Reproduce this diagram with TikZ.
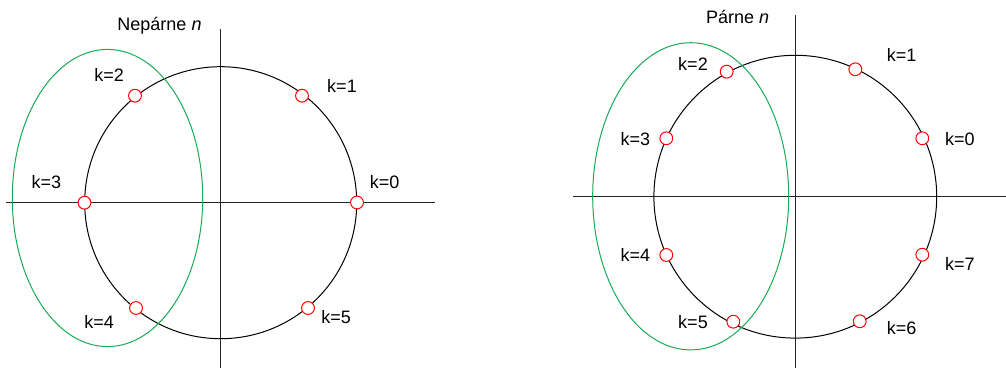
\documentclass[tikz,border=0pt]{standalone}
\usepackage{fontspec}
\setmainfont{Liberation Sans}
\usetikzlibrary{positioning}

\definecolor{regiongreen}{RGB}{25,170,85}

\tikzset{
	axis/.style={line width=0.5pt, draw=black!85},
	unitcircle/.style={line width=0.5pt, draw=black},
	region/.style={line width=0.5pt, draw=regiongreen},
	pole/.style={circle, draw=red, fill=white, line width=0.5pt, minimum size=6.4pt, inner sep=0pt},
	klabel/.style={anchor=base, inner sep=0pt, font=\fontsize{9}{11}\selectfont},
}

\begin{document}
\begin{tikzpicture}[x=0.5pt, y=-0.5pt]

	\useasboundingbox (0,0) rectangle (1006,368);

	% odd n
	\coordinate (A0) at (220.7,202.7);
	\coordinate (AW) at (6,202.7);
	\coordinate (AE) at (435,202.7);
	\coordinate (AN) at (220.7,29);
	\coordinate (AS) at (220.7,368);

	\draw[axis] (AW) -- (AE);
	\draw[axis] (AN) -- (AS);
	\draw[unitcircle] (A0) circle [radius=68pt];
	\draw[region] (107.5,198) ellipse [x radius=47.6pt, y radius=74.3pt];

	\node[pole] (a0) at (357,202.5) {};
	\node[pole] (a1) at (302,95.7) {};
	\node[pole] (a2) at (135,95.7) {};
	\node[pole] (a3) at (84.5,202.7) {};
	\node[pole] (a4) at (136,308) {};
	\node[pole] (a5) at (308,308) {};

	\node[klabel] (ta) at (159.5,30.7) {Nepárne \textit{n}};
	\node[klabel] (la0) at (384.7,188.7) {k=0};
	\node[klabel] (la1) at (342,92.3) {k=1};
	\node[klabel] (la2) at (109.2,81.7) {k=2};
	\node[klabel] (la3) at (46.3,189) {k=3};
	\node[klabel] (la4) at (99.2,328.3) {k=4};
	\node[klabel] (la5) at (336.2,324) {k=5};

	% even n
	\coordinate (B0) at (795.3,196.7);
	\coordinate (BW) at (573,196.7);
	\coordinate (BE) at (1006,196.7);
	\coordinate (BN) at (795.3,15.3);
	\coordinate (BS) at (795.3,368);

	\draw[axis] (BW) -- (BE);
	\draw[axis] (BN) -- (BS);
	\draw[unitcircle] (B0) circle [radius=70.7pt];
	\draw[region] (690.7,196.3) ellipse [x radius=49pt, y radius=76.8pt];

	\node[pole] (b0) at (922.3,138.3) {};
	\node[pole] (b1) at (855.3,69.3) {};
	\node[pole] (b2) at (726.7,71.7) {};
	\node[pole] (b3) at (666.3,138.3) {};
	\node[pole] (b4) at (666.3,255) {};
	\node[pole] (b5) at (733.3,321.7) {};
	\node[pole] (b6) at (859.7,321.3) {};
	\node[pole] (b7) at (922.3,254.7) {};

	\node[klabel] (tb) at (737.7,24) {Párne \textit{n}};
	\node[klabel] (lb0) at (959.8,146) {k=0};
	\node[klabel] (lb1) at (901.7,61.7) {k=1};
	\node[klabel] (lb2) at (693,70.7) {k=2};
	\node[klabel] (lb3) at (635.3,146) {k=3};
	\node[klabel] (lb4) at (635.3,261.7) {k=4};
	\node[klabel] (lb5) at (693,328.3) {k=5};
	\node[klabel] (lb6) at (901.7,335) {k=6};
	\node[klabel] (lb7) at (959.8,270.7) {k=7};

\end{tikzpicture}
\end{document}
